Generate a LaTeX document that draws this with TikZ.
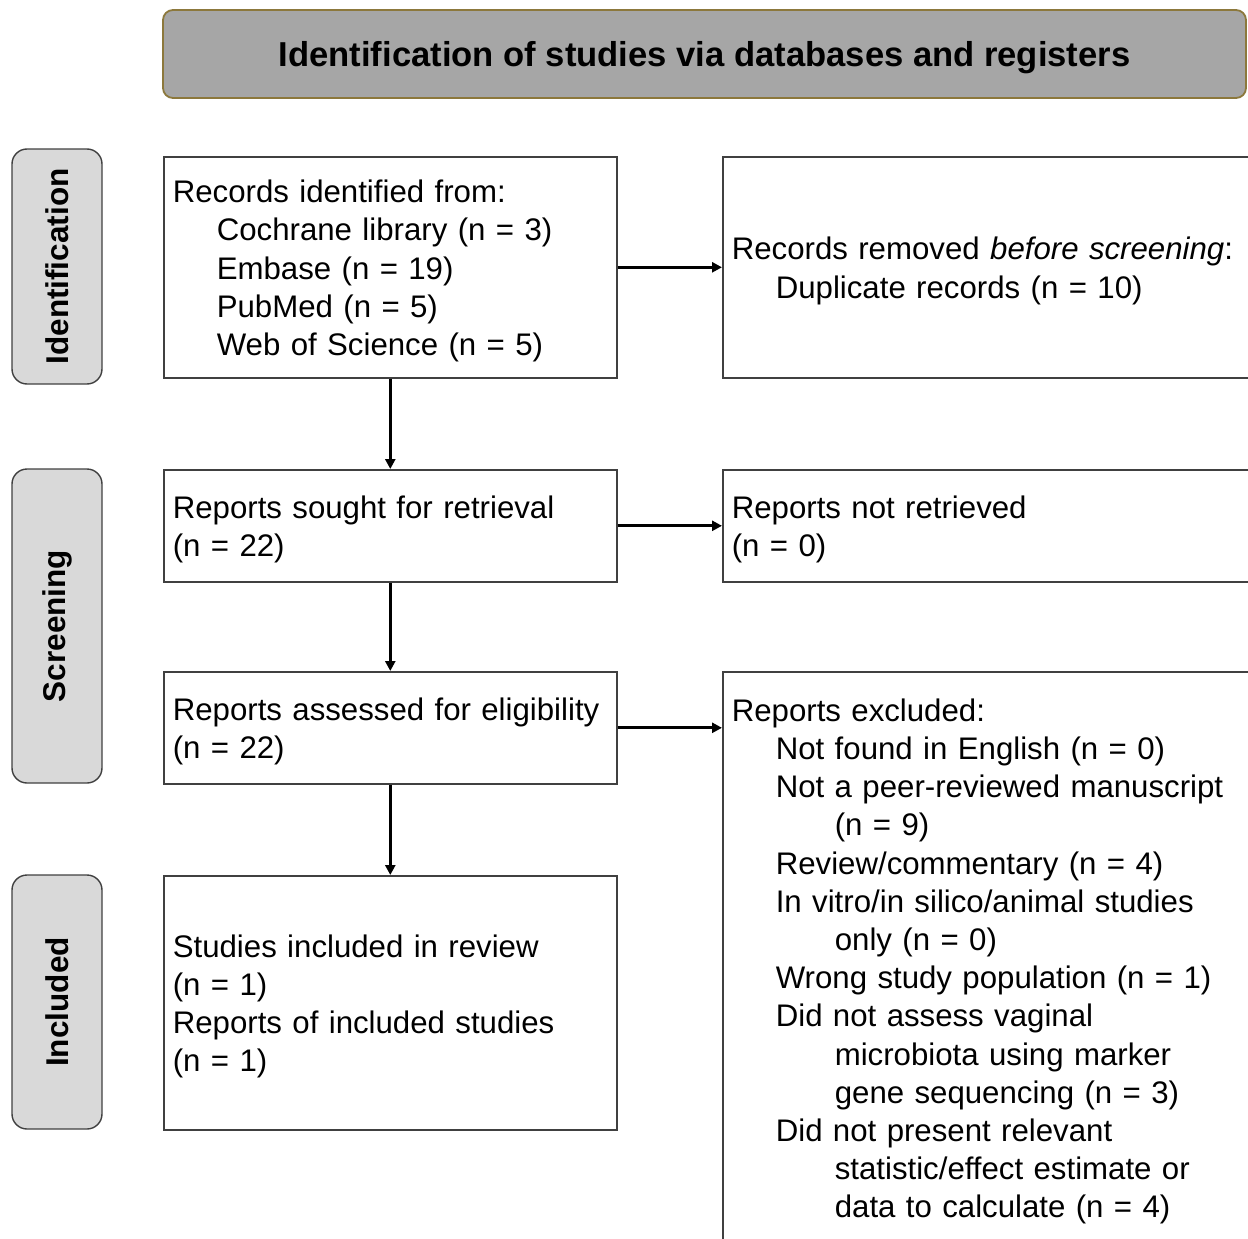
\documentclass[tikz,border=0pt]{standalone}
\usepackage{fontspec}
\setmainfont{Liberation Sans}
\usetikzlibrary{arrows.meta,calc}
\hyphenpenalty=10000
\exhyphenpenalty=10000
\definecolor{boxline}{RGB}{64,64,64}
\definecolor{headfill}{RGB}{166,166,166}
\definecolor{headline}{RGB}{140,120,60}
\definecolor{sidefill}{RGB}{217,217,217}
\newcommand{\firststrut}{\rule{0pt}{30pt}}
\begin{document}
\begin{tikzpicture}[x=1pt,y=-1pt,
  box/.style={draw=boxline, line width=1.6pt, anchor=north west, inner xsep=9pt, inner ysep=0pt,
    align=left, font=\fontsize{31.2}{38.2}\selectfont, fill=white},
  leftbox/.style={box, minimum width=453pt, text width=435pt},
  rightbox/.style={box, minimum width=560pt, text width=542pt},
  side/.style={draw=boxline, line width=1.4pt, fill=sidefill, rounded corners=15pt, rotate=90,
    minimum height=90pt, font=\fontsize{31.5}{36}\selectfont\bfseries, inner sep=0pt},
  head/.style={draw=headline, line width=1.8pt, fill=headfill, rounded corners=10pt,
    minimum width=1083pt, minimum height=88pt, font=\fontsize{34.6}{40}\selectfont\bfseries, inner sep=0pt,
    text height=25pt, text depth=0pt},
  arr/.style={line width=2.8pt, -{Triangle[length=10pt,width=10pt]}}
]
\useasboundingbox (0,0) rectangle (1248,1239);
\clip (0,0) rectangle (1248,1239);

\node[head] (hd) at (704.5,54) {Identification of studies via databases and registers};

\node[side, minimum width=235pt] (sid) at (57,266.5) {Identification};
\node[side, minimum width=314pt] (sscr) at (57,626) {Screening};
\node[side, minimum width=254pt] (sinc) at (57,1002) {Included};

\node[leftbox, minimum height=221pt] (b1) at (163,156) {\firststrut Records identified from:\\
\hspace*{44pt}Cochrane library (n = 3)\\
\hspace*{44pt}Embase (n = 19)\\
\hspace*{44pt}PubMed (n = 5)\\
\hspace*{44pt}Web of Science (n = 5)};

\node[rightbox, minimum height=221pt] (r1) at (722,156) {\firststrut Records removed \textit{before screening}:\\
\hspace*{44pt}Duplicate records (n = 10)};

\node[leftbox, minimum height=112pt] (b2) at (163,469) {\firststrut Reports sought for retrieval\\(n = 22)};
\node[rightbox, minimum height=112pt] (r2) at (722,469) {\firststrut Reports not retrieved\\(n = 0)};

\node[leftbox, minimum height=112pt] (b3) at (163,671) {\firststrut Reports assessed for eligibility\\(n = 22)};
\node[rightbox, minimum height=572pt] (r3) at (722,671) {\firststrut Reports excluded:\\
\hspace*{44pt}Not found in English (n = 0)\\
\hspace*{44pt}Not a peer-reviewed manuscript\\
\hspace*{103pt}(n = 9)\\
\hspace*{44pt}Review/commentary (n = 4)\\
\hspace*{44pt}In vitro/in silico/animal studies\\
\hspace*{103pt}only (n = 0)\\
\hspace*{44pt}Wrong study population (n = 1)\\
\hspace*{44pt}Did not assess vaginal\\
\hspace*{103pt}microbiota using marker\\
\hspace*{103pt}gene sequencing (n = 3)\\
\hspace*{44pt}Did not present relevant\\
\hspace*{103pt}statistic/effect estimate or\\
\hspace*{103pt}data to calculate (n = 4)};

\node[leftbox, minimum height=254pt] (b4) at (163,875) {\firststrut Studies included in review\\(n = 1)\\Reports of included studies\\(n = 1)};

\draw[arr] (b1.south) -- (b2.north);
\draw[arr] (b2.south) -- (b3.north);
\draw[arr] (b3.south) -- (b4.north);
\draw[arr] (b1.east) -- (b1.east -| r1.west);
\draw[arr] (b2.east) -- (b2.east -| r2.west);
\draw[arr] (b3.east) -- (b3.east -| r3.west);
\end{tikzpicture}
\end{document}
